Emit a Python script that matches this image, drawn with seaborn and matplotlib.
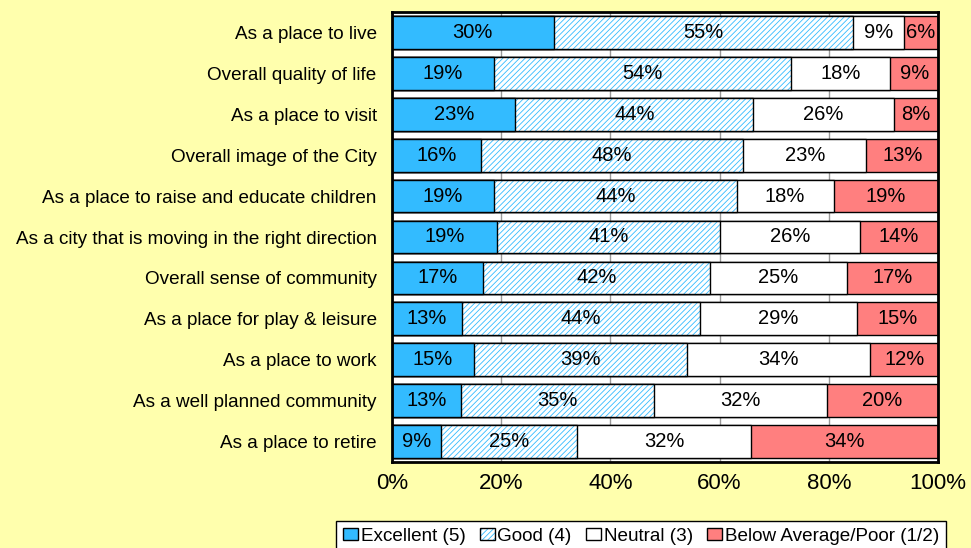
import matplotlib
matplotlib.use("Agg")
import matplotlib.pyplot as plt
from matplotlib.patches import Patch
import seaborn as sns
import pandas as pd
import numpy as np

categories = [
    "As a place to live",
    "Overall quality of life",
    "As a place to visit",
    "Overall image of the City",
    "As a place to raise and educate children",
    "As a city that is moving in the right direction",
    "Overall sense of community",
    "As a place for play & leisure",
    "As a place to work",
    "As a well planned community",
    "As a place to retire",
]
excellent = [29.6, 18.6, 22.6, 16.3, 18.7, 19.2, 16.6, 12.8, 15.0, 12.6, 9.0]
good      = [54.9, 54.4, 43.6, 48.0, 44.4, 40.9, 41.6, 43.7, 39.0, 35.4, 24.9]
neutral   = [9.2, 18.3, 25.7, 22.6, 17.8, 25.6, 25.1, 28.6, 33.6, 31.7, 31.9]
below     = [6.3, 8.7, 8.1, 13.1, 19.1, 14.3, 16.7, 14.9, 12.4, 20.3, 34.2]
series_names = ["Excellent (5)", "Good (4)", "Neutral (3)", "Below Average/Poor (1/2)"]
x_ticks = [0, 20, 40, 60, 80, 100]

BG = "#FFFFAD"
BLUE = "#33BBFF"
RED = "#FF7F7F"

sns.set_theme(style="white")
plt.rcParams["font.family"] = ["Liberation Sans", "DejaVu Sans"]
plt.rcParams["hatch.linewidth"] = 0.6
plt.rcParams["text.color"] = "black"
plt.rcParams["xtick.color"] = "black"
plt.rcParams["ytick.color"] = "black"
plt.rcParams["xtick.labelcolor"] = "black"
plt.rcParams["ytick.labelcolor"] = "black"

df = pd.DataFrame({"category": categories, "excellent": excellent, "good": good,
                   "neutral": neutral, "below": below})
df["c1"] = df["excellent"]
df["c2"] = df["c1"] + df["good"]
df["c3"] = df["c2"] + df["neutral"]
df["c4"] = df["c3"] + df["below"]

fig = plt.figure(figsize=(9.71, 5.48), dpi=100, facecolor=BG)
ax = fig.add_axes([392/971, 1-462/548, (938-392)/971, (462-12)/548])
ax.set_facecolor("white")

common = dict(y="category", orient="h", width=0.8, ax=ax, order=categories)
sns.barplot(data=df, x="c4", color=RED, edgecolor="black", linewidth=1, saturation=1, zorder=2, **common)
sns.barplot(data=df, x="c3", color="white", edgecolor="black", linewidth=1, saturation=1, zorder=3, **common)
sns.barplot(data=df, x="c2", color="white", edgecolor=BLUE, linewidth=0, saturation=1,
            hatch="//////", zorder=4, **common)
sns.barplot(data=df, x="c2", color="black", fill=False, linewidth=1, zorder=5, **common)
sns.barplot(data=df, x="c1", color=BLUE, edgecolor="black", linewidth=1, saturation=1, zorder=6, **common)

# segment labels
for i, row in df.iterrows():
    starts = [0, row["c1"], row["c2"], row["c3"]]
    vals = [row["excellent"], row["good"], row["neutral"], row["below"]]
    for s, v in zip(starts, vals):
        ax.text(s + v / 2, i - 0.05, f"{v:.0f}%", ha="center", va="center_baseline",
                fontsize=14.5, color="black", zorder=10)

ax.set_xlim(0, 100)
ax.set_ylim(len(categories) - 0.5, -0.5)
ax.set_xticks(x_ticks)
ax.set_xticklabels([f"{t}%" for t in x_ticks], fontsize=16)
ax.tick_params(axis="y", labelsize=13.6, length=0, pad=11)
ax.tick_params(axis="x", length=0, pad=8)
ax.set_xlabel("")
ax.set_ylabel("")
ax.xaxis.grid(True, color="#999999", linewidth=1, zorder=0)
ax.set_axisbelow(True)
for sp in ax.spines.values():
    sp.set_visible(True)
    sp.set_color("black")
    sp.set_linewidth(2)
    sp.set_zorder(20)

handles = [
    Patch(facecolor=BLUE, edgecolor="black", linewidth=1),
    (Patch(facecolor="white", edgecolor=BLUE, hatch="//////", linewidth=0),
     Patch(facecolor="none", edgecolor="black", linewidth=1)),
    Patch(facecolor="white", edgecolor="black", linewidth=1),
    Patch(facecolor=RED, edgecolor="black", linewidth=1),
]
leg = fig.legend(handles, series_names, loc="upper center", bbox_to_anchor=(641/971, 1-521/548),
                 ncol=4, fontsize=13.6, frameon=True, fancybox=False, framealpha=1,
                 edgecolor="black", facecolor="white", handlelength=0.8, handleheight=0.6,
                 handletextpad=0.15, columnspacing=0.75, borderpad=0.35, borderaxespad=0)
leg.get_frame().set_linewidth(1)

fig.savefig("out.png", dpi=100, facecolor=BG)
